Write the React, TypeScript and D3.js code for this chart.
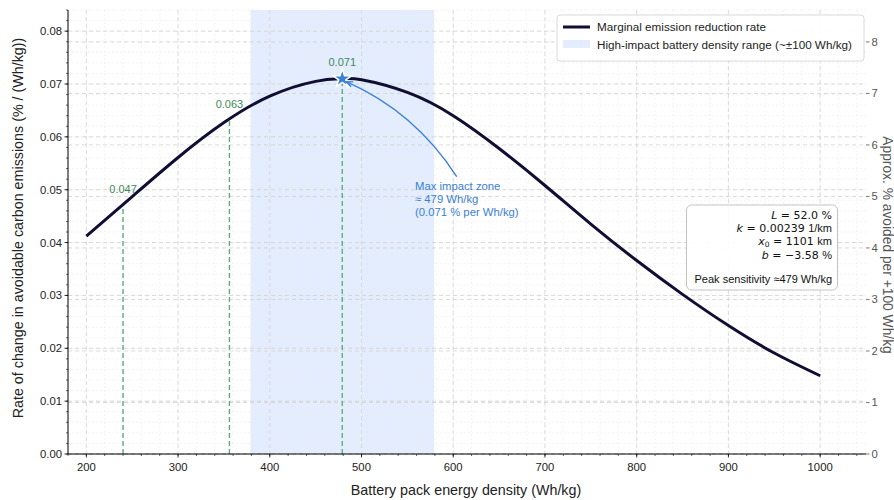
import React from "react";
import * as d3 from "d3";

// ---- data ----
const densities = [200, 250, 300, 350, 400, 450, 479, 500, 550, 600, 650, 700, 750, 800, 850, 900, 950, 1000];
const rates = [0.0412, 0.0487, 0.0561, 0.0627, 0.0677, 0.0705, 0.071, 0.0708, 0.0684, 0.064, 0.0578, 0.0508, 0.0435, 0.0366, 0.0302, 0.0243, 0.0191, 0.0148];
const markerX = [240, 356, 479];
const markerY = [0.047, 0.063, 0.071];
const markerLabels = ["0.047", "0.063", "0.071"];
const peakX = 479;
const peakY = 0.071;
const bandRange = [379, 579];
const xTicks = [200, 300, 400, 500, 600, 700, 800, 900, 1000];
const yTicks = [0, 0.01, 0.02, 0.03, 0.04, 0.05, 0.06, 0.07, 0.08];
const y2Ticks = [0, 1, 2, 3, 4, 5, 6, 7, 8];
const legendLabels = ["Marginal emission reduction rate", "High-impact battery density range (~±100 Wh/kg)"];
const annotationLines = ["Max impact zone", "≈ 479 Wh/kg", "(0.071 % per Wh/kg)"];

const W = 894, H = 500;
const M = { left: 68, right: 866, top: 10, bottom: 454 };
const FONT = "'Liberation Sans', Arial, sans-serif";
const MATH = "'DejaVu Sans', sans-serif";

export default function App() {
  const x = d3.scaleLinear().domain([180, 1050]).range([M.left, M.right]);
  const y = d3.scaleLinear().domain([0, 0.084]).range([M.bottom, M.top]);
  const y2 = d3.scaleLinear().domain([0, 8.62]).range([M.bottom, M.top]);

  const pts = densities.map((d, i) => [d, rates[i]] as [number, number]);
  const line = d3.line<[number, number]>().x(d => x(d[0])).y(d => y(d[1])).curve(d3.curveNatural);

  const xMinor = d3.range(180, 1051, 20);
  const yMinor = d3.range(0, 0.0841, 0.002);

  const star = d3.symbol().type(d3.symbolStar).size(110)();

  // arrow from text to star
  const ax0 = 456.7, ay0 = 176.7;
  const sx = x(peakX), sy = y(peakY);
  const ax1 = sx + 4, ay1 = sy + 3;
  const cx = 415, cy = 112;
  const ang = Math.atan2(ay1 - cy, ax1 - cx);
  const ah = 7;
  const head = `M${ax1 - ah * Math.cos(ang - 0.4)},${ay1 - ah * Math.sin(ang - 0.4)} L${ax1},${ay1} L${ax1 - ah * Math.cos(ang + 0.4)},${ay1 - ah * Math.sin(ang + 0.4)}`;

  return (
    <svg width={W} height={H} style={{ position: "absolute", left: 0, top: 0, background: "#fff" }} fontFamily={FONT}>
      {/* band */}
      <rect x={x(bandRange[0])} y={M.top} width={x(bandRange[1]) - x(bandRange[0])} height={M.bottom - M.top} fill="#3b82f6" fillOpacity={0.14} />
      {/* minor grid */}
      {xMinor.map(v => (
        <line key={"xm" + v} x1={x(v)} x2={x(v)} y1={M.top} y2={M.bottom} stroke="#ececec" strokeWidth={0.6} strokeDasharray="2,2" />
      ))}
      {yMinor.map((v, i) => (
        <line key={"ym" + i} x1={M.left} x2={M.right} y1={y(v)} y2={y(v)} stroke="#ececec" strokeWidth={0.6} strokeDasharray="2,2" />
      ))}
      {/* major grid */}
      {xTicks.map(v => (
        <line key={"xg" + v} x1={x(v)} x2={x(v)} y1={M.top} y2={M.bottom} stroke="#d4d4d4" strokeWidth={0.8} strokeDasharray="4,3" />
      ))}
      {yTicks.map(v => (
        <line key={"yg" + v} x1={M.left} x2={M.right} y1={y(v)} y2={y(v)} stroke="#d0d0d0" strokeWidth={0.8} strokeDasharray="4,3" />
      ))}
      {y2Ticks.map(v => (
        <line key={"y2g" + v} x1={M.left} x2={M.right} y1={y2(v)} y2={y2(v)} stroke="#d0d0d0" strokeWidth={0.8} strokeDasharray="4,3" />
      ))}

      {/* green markers */}
      {markerX.map((mx, i) => (
        <g key={"mk" + i}>
          <line x1={x(mx)} x2={x(mx)} y1={y(0)} y2={y(markerY[i])} stroke="#5aae7c" strokeWidth={1.4} strokeDasharray="5,3" />
          <text x={x(mx)} y={y(markerY[i]) - 13} textAnchor="middle" fontSize={11} fill="#3f8a5c">{markerLabels[i]}</text>
        </g>
      ))}

      {/* curve */}
      <path d={line(pts) || ""} fill="none" stroke="#110e33" strokeWidth={3} />

      {/* star */}
      <path d={star || ""} transform={`translate(${sx},${sy})`} fill="#3a7fd9" stroke="#fff" strokeWidth={1.5} />

      {/* annotation arrow */}
      <path d={`M${ax0},${ay0} Q${cx},${cy} ${ax1},${ay1}`} fill="none" stroke="#3a7fd9" strokeWidth={1.3} />
      <path d={head} fill="none" stroke="#3a7fd9" strokeWidth={1.3} />
      {annotationLines.map((t, i) => (
        <text key={"an" + i} x={415} y={190 + i * 13.2} fontSize={11.3} fill="#3a7fd9">{t}</text>
      ))}

      {/* axes */}
      <line x1={M.left} x2={M.left} y1={M.top} y2={M.bottom} stroke="#000" strokeWidth={1} />
      <line x1={M.left} x2={M.right} y1={M.bottom} y2={M.bottom} stroke="#000" strokeWidth={1} />
      {xMinor.map(v => (
        <line key={"xmt" + v} x1={x(v)} x2={x(v)} y1={M.bottom} y2={M.bottom + 2} stroke="#000" strokeWidth={0.6} />
      ))}
      {xTicks.map(v => (
        <g key={"xt" + v}>
          <line x1={x(v)} x2={x(v)} y1={M.bottom} y2={M.bottom + 3.5} stroke="#000" strokeWidth={0.8} />
          <text x={x(v)} y={M.bottom + 17} textAnchor="middle" fontSize={11.3} fill="#222">{v}</text>
        </g>
      ))}
      {yMinor.map((v, i) => (
        <line key={"ymt" + i} x1={M.left - 2} x2={M.left} y1={y(v)} y2={y(v)} stroke="#000" strokeWidth={0.6} />
      ))}
      {yTicks.map(v => (
        <g key={"yt" + v}>
          <line x1={M.left - 3.5} x2={M.left} y1={y(v)} y2={y(v)} stroke="#000" strokeWidth={0.8} />
          <text x={M.left - 6} y={y(v) + 4} textAnchor="end" fontSize={11.3} fill="#222">{v.toFixed(2)}</text>
        </g>
      ))}
      {y2Ticks.map(v => (
        <g key={"y2t" + v}>
          <line x1={M.right} x2={M.right + 3.5} y1={y2(v)} y2={y2(v)} stroke="#555" strokeWidth={0.8} />
          <text x={M.right + 5.5} y={y2(v) + 4} textAnchor="start" fontSize={11.3} fill="#555">{v}</text>
        </g>
      ))}

      {/* axis labels */}
      <text x={466} y={495} textAnchor="middle" fontSize={14.3} fill="#222">Battery pack energy density (Wh/kg)</text>
      <text transform={`translate(23,${228}) rotate(-90)`} textAnchor="middle" fontSize={14.3} fill="#222">Rate of change in avoidable carbon emissions (% / (Wh/kg))</text>
      <text transform={`translate(882.5,${245}) rotate(90)`} textAnchor="middle" fontSize={13.8} fill="#555">Approx. % avoided per +100 Wh/kg</text>

      {/* legend */}
      <rect x={557} y={15} width={307} height={46} rx={3} fill="#fff" fillOpacity={0.9} stroke="#d0d0d0" strokeWidth={0.8} />
      <line x1={563} x2={590} y1={27} y2={27} stroke="#110e33" strokeWidth={3} />
      <rect x={563} y={40} width={27} height={8} fill="#3b82f6" fillOpacity={0.14} />
      <text x={597} y={31} fontSize={11.7} fill="#222">{legendLabels[0]}</text>
      <text x={597} y={49} fontSize={11.7} fill="#222">{legendLabels[1]}</text>

      {/* info box */}
      <rect x={686.5} y={205} width={151} height={85} rx={5} fill="#fff" fillOpacity={0.9} stroke="#bdbdbd" strokeWidth={0.9} />
      <g fontSize={11} fill="#111" textAnchor="end">
        <text x={832} y={219} fontFamily={MATH}><tspan fontStyle="italic">L</tspan> = 52.0 %</text>
        <text x={832} y={232} fontFamily={MATH}><tspan fontStyle="italic">k</tspan> = 0.00239 <tspan fontFamily={FONT}>1/km</tspan></text>
        <text x={832} y={245} fontFamily={MATH}><tspan fontStyle="italic">x</tspan><tspan fontSize={7.5} dy={1.5}>0</tspan><tspan dy={-1.5}> = 1101 <tspan fontFamily={FONT}>km</tspan></tspan></text>
        <text x={832} y={258.5} fontFamily={MATH}><tspan fontStyle="italic">b</tspan> = −3.58 <tspan fontFamily={FONT}>%</tspan></text>
        <text x={832} y={283}>Peak sensitivity ≈479 Wh/kg</text>
      </g>
    </svg>
  );
}
